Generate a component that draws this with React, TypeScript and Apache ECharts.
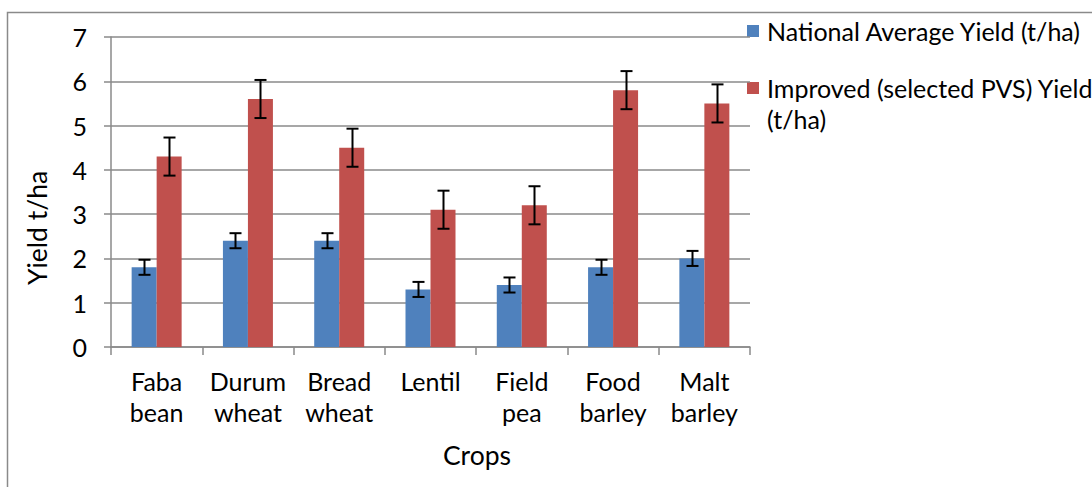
import React, { useEffect, useRef } from "react";
import * as echarts from "echarts";

const categories = ["Faba\nbean", "Durum\nwheat", "Bread\nwheat", "Lentil", "Field\npea", "Food\nbarley", "Malt\nbarley"];
const nationalAvg = [1.8, 2.4, 2.4, 1.3, 1.4, 1.8, 2.0];
const improved = [4.3, 5.6, 4.5, 3.1, 3.2, 5.8, 5.5];
const nationalErr = [0.17, 0.17, 0.17, 0.17, 0.17, 0.17, 0.17];
const improvedErr = [0.43, 0.43, 0.43, 0.43, 0.43, 0.43, 0.43];
const yTicks = [0, 1, 2, 3, 4, 5, 6, 7];

const FONT = "Lato";
const BLUE = "#4F81BD";
const RED = "#C0504D";
const GRAY = "#8a8a8a";

function errorSeries(values: number[], errs: number[], offset: number) {
  return {
    type: "custom",
    silent: true,
    z: 10,
    data: values.map((v, i) => [i, v - errs[i], v + errs[i]]),
    renderItem: (params: any, api: any) => {
      const idx = api.value(0);
      const lo = api.coord([idx, api.value(1)]);
      const hi = api.coord([idx, api.value(2)]);
      const x = Math.round(lo[0] + offset) + 0.5;
      const cap = 6;
      const style = { stroke: "#000", lineWidth: 2 };
      return {
        type: "group",
        children: [
          { type: "line", shape: { x1: x, y1: hi[1], x2: x, y2: lo[1] }, style },
          { type: "line", shape: { x1: x - cap, y1: hi[1], x2: x + cap, y2: hi[1] }, style },
          { type: "line", shape: { x1: x - cap, y1: lo[1], x2: x + cap, y2: lo[1] }, style },
        ],
      };
    },
  };
}

export default function App() {
  const ref = useRef<HTMLDivElement>(null);
  useEffect(() => {
    if (!ref.current) return;
    const chart = echarts.init(ref.current, undefined, { renderer: "svg" });
    chart.setOption({
      animation: false,
      textStyle: { fontFamily: FONT },
      grid: { left: 111, right: 342, top: 37, bottom: 140 },
      xAxis: {
        type: "category",
        data: categories,
        axisLine: { lineStyle: { color: GRAY, width: 1.5 } },
        axisTick: { show: true, alignWithLabel: false, length: 8, lineStyle: { color: GRAY, width: 1.5 } },
        axisLabel: { color: "#000", fontSize: 25, fontFamily: FONT, lineHeight: 31, margin: 18, interval: 0 },
      },
      yAxis: {
        type: "value",
        min: 0,
        max: 7,
        interval: 1,
        axisLine: { show: true, lineStyle: { color: GRAY, width: 1.5 } },
        axisTick: { show: true, length: 7, lineStyle: { color: GRAY, width: 1.5 } },
        axisLabel: {
          color: "#000",
          fontSize: 25,
          fontFamily: FONT,
          margin: 24,
          formatter: (v: number) => (yTicks.includes(v) ? String(v) : ""),
        },
        splitLine: { show: true, lineStyle: { color: GRAY, width: 1.5 } },
      },
      series: [
        {
          name: "National Average Yield (t/ha)",
          type: "bar",
          data: nationalAvg,
          barWidth: 25,
          barGap: "0%",
          itemStyle: { color: BLUE },
        },
        {
          name: "Improved (selected PVS) Yield (t/ha)",
          type: "bar",
          data: improved,
          barWidth: 25,
          barGap: "0%",
          itemStyle: { color: RED },
        },
        errorSeries(nationalAvg, nationalErr, -12.5),
        errorSeries(improved, improvedErr, 12.5),
      ],
      graphic: [
        {
          type: "rect",
          shape: { x: 7.5, y: 12.5, width: 1200, height: 600 },
          style: { fill: "none", stroke: GRAY, lineWidth: 1.5 },
          silent: true,
        },
        { type: "rect", shape: { x: 747, y: 25, width: 12, height: 12 }, style: { fill: BLUE } },
        {
          type: "text",
          x: 767,
          y: 31,
          style: { text: "National Average Yield (t/ha)", fill: "#000", font: `25px "${FONT}"`, verticalAlign: "middle" },
        },
        { type: "rect", shape: { x: 747, y: 82, width: 12, height: 12 }, style: { fill: RED } },
        {
          type: "text",
          x: 767,
          y: 88,
          style: { text: "Improved (selected PVS) Yield", fill: "#000", font: `25px "${FONT}"`, verticalAlign: "middle" },
        },
        {
          type: "text",
          x: 767,
          y: 119,
          style: { text: "(t/ha)", fill: "#000", font: `25px "${FONT}"`, verticalAlign: "middle" },
        },
        {
          type: "text",
          x: 37,
          y: 228,
          rotation: Math.PI / 2,
          style: { text: "Yield t/ha", fill: "#000", font: `26.5px "${FONT}"`, align: "center", verticalAlign: "middle" },
        },
        {
          type: "text",
          x: 477,
          y: 455,
          style: { text: "Crops", fill: "#000", font: `26.5px "${FONT}"`, align: "center", verticalAlign: "middle" },
        },
      ],
    });
    return () => chart.dispose();
  }, []);
  return <div ref={ref} style={{ position: "absolute", left: 0, top: 0, width: 1092, height: 487, background: "#fff" }} />;
}
